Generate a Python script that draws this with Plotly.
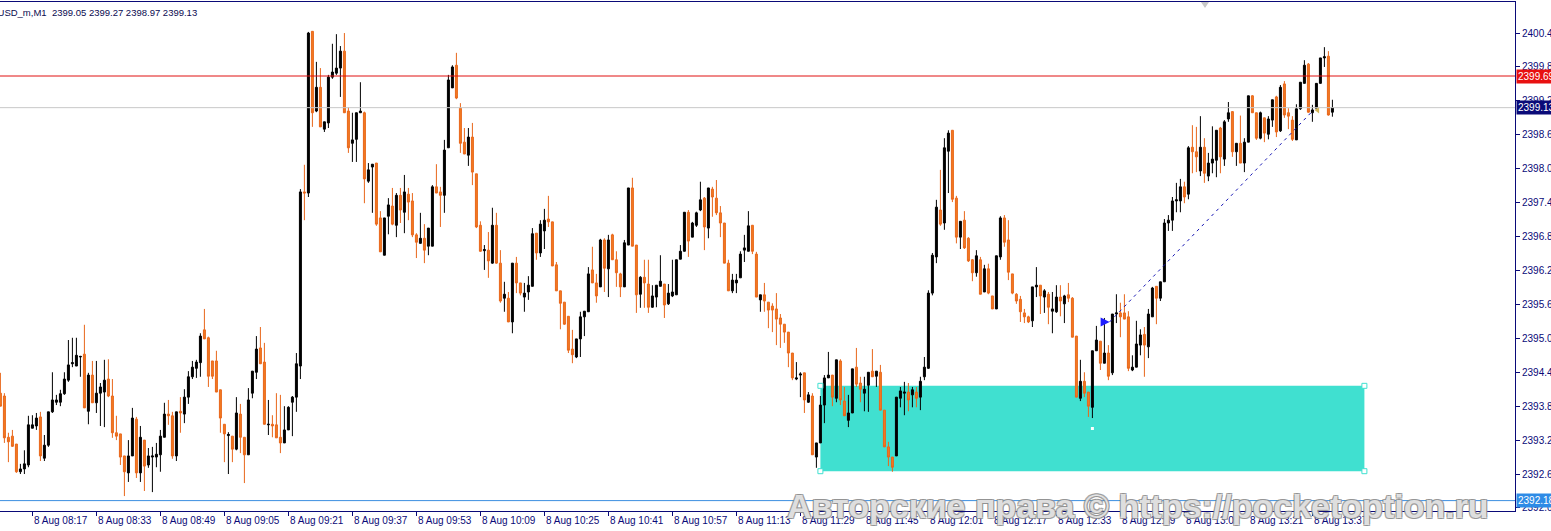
import plotly.graph_objects as go
import pandas as pd

# ---------------- data ----------------
symbol = "XAUUSD_m,M1"
first_bar_time = "2024-08-08 08:09"

open_ = [
    2394.08, 2394.03, 2393.30, 2393.32, 2393.18, 2392.69, 2392.74, 2392.81, 2393.46, 2393.50,
    2393.66, 2392.93, 2393.16, 2393.75, 2393.92, 2393.92, 2394.07, 2394.31, 2394.60, 2394.56,
    2394.72, 2394.77, 2393.76, 2394.40, 2393.91, 2394.08, 2394.10, 2394.33, 2394.03, 2393.38,
    2393.36, 2392.97, 2392.67, 2392.97, 2393.62, 2392.67, 2393.25, 2392.81, 2392.95, 2392.95,
    2392.99, 2393.30, 2393.71, 2393.68, 2392.97, 2393.76, 2393.71, 2394.01, 2394.37, 2394.52,
    2394.62, 2395.20, 2395.06, 2394.65, 2394.65, 2394.14, 2393.53, 2393.33, 2393.32, 2393.09,
    2393.71, 2393.30, 2392.99, 2394.08, 2394.45, 2394.88, 2394.63, 2393.52, 2393.53, 2393.52,
    2393.30, 2393.20, 2393.43, 2393.92, 2394.01, 2394.56, 2397.64, 2397.62, 2400.48, 2399.07,
    2399.49, 2398.75, 2398.86, 2399.67, 2399.74, 2399.83, 2400.13, 2399.07, 2398.50, 2398.57,
    2399.04, 2399.04, 2397.83, 2398.08, 2398.15, 2397.18, 2396.52, 2397.21, 2397.39, 2397.05,
    2397.58, 2397.28, 2397.60, 2397.48, 2396.88, 2396.73, 2396.82, 2396.68, 2396.68, 2397.73,
    2397.64, 2397.58, 2398.42, 2399.48, 2399.88, 2399.12, 2398.52, 2398.29, 2398.61, 2397.96,
    2397.05, 2396.60, 2396.61, 2396.38, 2397.05, 2396.38, 2395.76, 2395.76, 2395.34, 2396.38,
    2396.03, 2395.78, 2395.87, 2395.97, 2396.91, 2396.56, 2396.95, 2397.16, 2397.11, 2396.35,
    2395.89, 2395.69, 2395.44, 2394.86, 2394.72, 2395.04, 2395.43, 2395.52, 2396.26, 2396.03,
    2395.96, 2396.79, 2396.28, 2396.88, 2396.44, 2396.19, 2395.96, 2396.70, 2397.71, 2396.70,
    2395.83, 2396.13, 2396.01, 2395.60, 2395.78, 2395.97, 2396.01, 2395.66, 2395.80, 2395.82,
    2396.45, 2396.59, 2397.28, 2396.84, 2397.05, 2397.32, 2397.53, 2397.00, 2397.69, 2397.53,
    2397.27, 2397.09, 2396.38, 2395.89, 2396.03, 2396.12, 2396.61, 2396.59, 2397.05, 2396.54,
    2395.73, 2395.82, 2395.69, 2395.62, 2395.57, 2395.41, 2395.30, 2395.16, 2394.79, 2394.33,
    2394.40, 2394.44, 2393.92, 2394.03, 2392.95, 2393.20, 2393.87, 2394.35, 2394.40, 2393.99,
    2394.65, 2393.94, 2393.60, 2393.73, 2394.54, 2394.26, 2394.08, 2394.22, 2394.47, 2394.38,
    2394.45, 2393.78, 2393.13, 2392.95, 2392.97, 2393.99, 2394.08, 2394.10, 2394.05, 2394.10,
    2394.01, 2394.37, 2394.52, 2395.85, 2396.49, 2397.32, 2397.09, 2398.36, 2398.73, 2397.53,
    2396.84, 2397.14, 2396.82, 2396.44, 2396.21, 2396.44, 2395.87, 2396.28, 2395.80, 2395.57,
    2396.49, 2397.18, 2396.79, 2396.19, 2395.83, 2395.74, 2395.50, 2395.43, 2395.36, 2395.96,
    2395.99, 2395.78, 2395.83, 2395.53, 2395.52, 2395.78, 2395.66, 2395.82, 2395.76, 2395.09,
    2393.99, 2394.29, 2394.10, 2393.83, 2394.83, 2395.00, 2394.61, 2394.79, 2394.44, 2395.48,
    2395.50, 2395.50, 2395.43, 2394.49, 2394.54, 2394.93, 2395.12, 2394.90, 2395.43, 2395.97,
    2395.76, 2396.05, 2397.09, 2397.14, 2397.48, 2397.48, 2397.73, 2397.60, 2398.43, 2398.35,
    2398.01, 2398.43, 2397.92, 2398.15, 2398.20, 2398.77, 2398.22, 2398.93, 2399.06, 2398.35,
    2398.50, 2398.15, 2398.52, 2399.34, 2399.04, 2398.59, 2398.95, 2398.66, 2398.91, 2399.32,
    2398.72, 2399.55, 2399.04, 2398.91, 2398.56, 2399.11, 2399.56, 2399.90, 2399.04, 2399.12,
    2399.56, 2400.01, 2400.04, 2399.05,
]

high = [
    2394.44, 2394.08, 2393.38, 2393.43, 2393.18, 2392.83, 2393.07, 2393.68, 2393.69, 2393.73,
    2393.75, 2393.34, 2393.75, 2394.45, 2394.05, 2394.14, 2394.45, 2395.02, 2395.06, 2395.06,
    2394.74, 2395.29, 2394.44, 2394.65, 2394.65, 2394.26, 2394.67, 2394.68, 2394.33, 2393.68,
    2393.36, 2392.97, 2393.25, 2393.82, 2393.66, 2393.50, 2393.25, 2393.11, 2393.13, 2393.20,
    2393.43, 2393.91, 2393.96, 2393.75, 2393.75, 2394.01, 2394.15, 2394.47, 2394.65, 2394.67,
    2395.14, 2395.57, 2395.08, 2394.65, 2394.83, 2394.14, 2393.53, 2393.39, 2393.32, 2394.01,
    2393.89, 2393.30, 2394.17, 2394.47, 2395.09, 2395.25, 2394.97, 2393.96, 2393.69, 2394.08,
    2394.05, 2393.85, 2393.85, 2394.03, 2394.79, 2397.69, 2398.12, 2400.47, 2400.48, 2399.94,
    2399.83, 2398.88, 2399.71, 2400.26, 2400.43, 2400.22, 2400.45, 2399.14, 2399.04, 2399.04,
    2399.58, 2399.06, 2398.15, 2398.13, 2398.15, 2397.30, 2397.18, 2397.53, 2397.71, 2397.62,
    2397.71, 2397.94, 2397.71, 2397.62, 2396.91, 2397.27, 2397.07, 2397.00, 2397.76, 2398.13,
    2397.73, 2398.56, 2399.71, 2399.88, 2400.10, 2399.21, 2398.77, 2398.77, 2398.86, 2397.96,
    2397.12, 2396.70, 2396.93, 2397.36, 2397.27, 2396.61, 2396.05, 2395.87, 2396.38, 2396.49,
    2396.03, 2396.03, 2396.15, 2397.00, 2396.91, 2397.14, 2397.34, 2397.57, 2397.11, 2396.40,
    2395.89, 2395.69, 2395.44, 2395.20, 2395.04, 2395.52, 2395.53, 2396.31, 2396.67, 2396.19,
    2396.81, 2396.82, 2396.88, 2396.90, 2396.59, 2396.21, 2396.79, 2397.71, 2397.89, 2396.70,
    2396.15, 2396.44, 2396.44, 2395.99, 2395.99, 2396.52, 2396.01, 2396.01, 2396.44, 2396.44,
    2396.70, 2397.28, 2397.32, 2397.11, 2397.29, 2397.82, 2397.55, 2397.71, 2397.73, 2397.85,
    2397.39, 2397.09, 2396.44, 2396.19, 2396.19, 2396.59, 2396.88, 2397.30, 2397.05, 2396.58,
    2395.82, 2396.03, 2395.69, 2395.67, 2395.85, 2395.48, 2395.30, 2395.16, 2394.79, 2394.63,
    2394.45, 2394.44, 2394.10, 2394.08, 2393.20, 2394.03, 2394.40, 2394.81, 2394.40, 2394.67,
    2394.68, 2394.19, 2394.05, 2394.51, 2394.88, 2394.37, 2394.37, 2394.45, 2394.86, 2394.47,
    2394.58, 2393.78, 2393.22, 2392.95, 2394.01, 2394.19, 2394.28, 2394.26, 2394.19, 2394.19,
    2394.37, 2394.72, 2395.90, 2396.56, 2397.50, 2398.03, 2398.59, 2398.73, 2398.73, 2397.57,
    2397.12, 2397.30, 2396.84, 2396.45, 2396.61, 2396.49, 2396.35, 2396.37, 2395.80, 2396.51,
    2397.21, 2397.23, 2397.14, 2396.19, 2395.85, 2395.80, 2395.57, 2395.45, 2395.96, 2396.31,
    2395.99, 2395.92, 2395.87, 2395.87, 2395.99, 2395.99, 2395.82, 2396.03, 2395.78, 2395.09,
    2394.67, 2394.45, 2394.10, 2394.83, 2395.27, 2395.00, 2395.41, 2394.93, 2395.48, 2395.83,
    2395.68, 2395.83, 2395.53, 2394.75, 2395.36, 2395.21, 2395.25, 2395.57, 2395.96, 2395.97,
    2396.05, 2397.16, 2397.23, 2397.55, 2397.80, 2397.87, 2397.82, 2398.45, 2398.82, 2398.79,
    2398.98, 2398.59, 2398.33, 2398.80, 2398.73, 2398.79, 2398.91, 2399.23, 2399.06, 2398.50,
    2398.99, 2398.59, 2399.34, 2399.35, 2399.04, 2399.06, 2398.95, 2398.98, 2399.27, 2399.34,
    2399.53, 2399.60, 2399.12, 2398.98, 2399.19, 2399.58, 2399.97, 2399.92, 2399.18, 2399.56,
    2400.01, 2400.20, 2400.13, 2399.27,
]

low = [
    2393.85, 2393.20, 2392.86, 2393.13, 2392.67, 2392.65, 2392.65, 2392.77, 2393.46, 2393.43,
    2392.88, 2392.88, 2393.13, 2393.73, 2393.87, 2393.85, 2394.05, 2394.28, 2394.54, 2394.56,
    2394.37, 2393.82, 2393.53, 2393.91, 2393.73, 2393.50, 2393.48, 2394.01, 2393.29, 2393.25,
    2392.81, 2392.26, 2392.51, 2392.97, 2392.58, 2392.51, 2392.35, 2392.76, 2392.33, 2392.77,
    2392.69, 2393.30, 2393.52, 2392.92, 2392.88, 2393.38, 2393.55, 2393.89, 2394.33, 2394.35,
    2394.37, 2395.04, 2394.19, 2394.33, 2394.10, 2393.38, 2392.86, 2392.65, 2392.86, 2393.07,
    2393.02, 2392.49, 2392.99, 2393.99, 2394.33, 2394.60, 2393.53, 2393.34, 2393.30, 2393.29,
    2393.02, 2393.20, 2393.43, 2393.32, 2393.75, 2394.33, 2397.14, 2397.55, 2398.79, 2399.05,
    2398.79, 2398.70, 2398.77, 2399.64, 2399.71, 2399.32, 2399.04, 2398.33, 2398.17, 2398.17,
    2399.04, 2397.44, 2397.80, 2397.27, 2397.04, 2396.58, 2396.52, 2396.89, 2397.05, 2396.84,
    2397.09, 2396.91, 2397.14, 2396.84, 2396.47, 2396.73, 2396.38, 2396.52, 2396.68, 2397.62,
    2397.02, 2397.27, 2398.42, 2399.48, 2399.28, 2398.33, 2398.31, 2398.10, 2397.76, 2397.00,
    2396.58, 2396.26, 2396.12, 2396.37, 2396.37, 2395.68, 2395.52, 2395.34, 2395.14, 2395.85,
    2395.81, 2395.52, 2395.73, 2395.97, 2396.44, 2396.49, 2396.63, 2397.02, 2396.33, 2395.89,
    2395.21, 2395.29, 2394.79, 2394.61, 2394.70, 2394.72, 2395.09, 2395.52, 2396.03, 2395.68,
    2395.96, 2395.87, 2395.78, 2396.44, 2395.96, 2395.78, 2395.96, 2396.70, 2396.68, 2395.50,
    2395.59, 2395.59, 2395.50, 2395.59, 2395.60, 2395.97, 2395.41, 2395.64, 2395.78, 2395.82,
    2396.45, 2396.59, 2396.49, 2396.84, 2397.02, 2397.30, 2396.61, 2396.82, 2397.20, 2397.23,
    2396.84, 2396.38, 2395.89, 2395.85, 2395.85, 2396.12, 2396.40, 2396.59, 2396.54, 2395.78,
    2395.52, 2395.52, 2395.23, 2395.16, 2394.93, 2394.88, 2394.97, 2394.54, 2394.31, 2394.31,
    2394.01, 2393.73, 2393.91, 2392.99, 2392.76, 2393.20, 2393.55, 2394.35, 2393.85, 2393.92,
    2393.87, 2393.68, 2393.48, 2393.73, 2394.19, 2393.92, 2393.76, 2393.75, 2394.37, 2394.19,
    2393.78, 2393.13, 2392.79, 2392.69, 2392.97, 2393.83, 2393.69, 2393.76, 2393.83, 2393.83,
    2393.78, 2394.31, 2394.51, 2395.81, 2396.38, 2397.04, 2396.97, 2397.62, 2397.46, 2396.73,
    2396.63, 2396.63, 2396.40, 2396.06, 2396.14, 2395.83, 2395.87, 2395.83, 2395.57, 2395.57,
    2396.44, 2396.67, 2396.08, 2395.83, 2395.66, 2395.34, 2395.32, 2395.32, 2395.25, 2395.78,
    2395.48, 2395.50, 2395.30, 2395.14, 2395.50, 2395.44, 2395.32, 2395.69, 2395.07, 2394.01,
    2393.94, 2394.01, 2393.66, 2393.64, 2394.83, 2394.49, 2394.61, 2394.31, 2394.40, 2395.32,
    2395.07, 2395.39, 2394.47, 2394.47, 2394.54, 2394.75, 2394.37, 2394.70, 2395.43, 2395.30,
    2395.71, 2396.05, 2396.95, 2396.95, 2397.28, 2397.28, 2397.44, 2397.51, 2397.97, 2397.99,
    2397.92, 2397.80, 2397.83, 2397.97, 2397.90, 2397.97, 2398.10, 2398.88, 2398.26, 2398.10,
    2398.15, 2397.99, 2398.52, 2399.04, 2398.56, 2398.57, 2398.52, 2398.57, 2398.79, 2398.61,
    2398.70, 2398.95, 2398.75, 2398.54, 2398.56, 2399.09, 2399.56, 2399.04, 2398.88, 2399.11,
    2399.56, 2399.85, 2398.99, 2398.97,
]

close = [
    2393.85, 2393.29, 2393.22, 2393.14, 2392.69, 2392.74, 2392.83, 2393.52, 2393.52, 2393.64,
    2392.97, 2393.16, 2393.75, 2393.96, 2393.96, 2394.07, 2394.33, 2394.58, 2394.62, 2394.75,
    2394.73, 2393.82, 2394.40, 2393.91, 2394.08, 2394.19, 2394.31, 2394.03, 2393.38, 2393.32,
    2392.95, 2392.69, 2392.97, 2393.64, 2392.67, 2393.30, 2392.79, 2392.97, 2392.97, 2393.00,
    2393.32, 2393.71, 2393.68, 2392.97, 2393.75, 2393.73, 2394.01, 2394.37, 2394.54, 2394.63,
    2395.09, 2395.04, 2394.38, 2394.38, 2394.10, 2393.64, 2393.36, 2393.35, 2393.09, 2393.73,
    2393.30, 2392.99, 2393.96, 2394.47, 2394.86, 2394.60, 2393.53, 2393.53, 2393.50, 2393.29,
    2393.20, 2393.43, 2393.83, 2394.01, 2394.60, 2397.64, 2397.62, 2400.45, 2399.04, 2399.49,
    2398.79, 2398.88, 2399.67, 2399.76, 2399.83, 2400.13, 2399.04, 2398.42, 2398.56, 2399.04,
    2399.07, 2397.87, 2398.03, 2398.13, 2397.07, 2396.58, 2397.18, 2397.41, 2397.07, 2397.58,
    2397.32, 2397.64, 2397.46, 2396.88, 2396.75, 2396.82, 2396.61, 2397.00, 2397.73, 2397.62,
    2397.58, 2398.38, 2399.62, 2399.85, 2399.30, 2398.50, 2398.31, 2398.61, 2397.99, 2397.02,
    2396.59, 2396.62, 2396.42, 2397.05, 2396.38, 2395.71, 2395.83, 2395.34, 2396.38, 2396.03,
    2395.85, 2395.85, 2395.99, 2396.90, 2396.56, 2397.07, 2397.14, 2397.11, 2396.33, 2395.89,
    2395.67, 2395.30, 2394.84, 2394.76, 2395.04, 2395.43, 2395.53, 2396.19, 2396.03, 2395.80,
    2396.79, 2396.29, 2396.79, 2396.44, 2396.21, 2395.96, 2396.74, 2397.71, 2396.68, 2395.82,
    2396.13, 2396.03, 2395.60, 2395.80, 2395.99, 2396.06, 2395.64, 2395.85, 2395.87, 2396.44,
    2396.59, 2397.28, 2396.77, 2397.09, 2397.27, 2397.50, 2397.02, 2397.71, 2397.55, 2397.27,
    2397.09, 2396.38, 2395.89, 2396.08, 2396.08, 2396.54, 2396.65, 2397.04, 2396.59, 2395.78,
    2395.82, 2395.71, 2395.55, 2395.55, 2395.39, 2395.30, 2395.16, 2394.79, 2394.35, 2394.35,
    2394.42, 2393.96, 2394.05, 2392.99, 2393.20, 2393.87, 2394.35, 2394.40, 2394.01, 2394.67,
    2393.96, 2393.68, 2393.73, 2394.51, 2394.24, 2394.15, 2394.15, 2394.45, 2394.37, 2394.47,
    2393.78, 2393.13, 2392.95, 2392.77, 2394.01, 2394.12, 2394.10, 2393.96, 2394.14, 2393.99,
    2394.29, 2394.54, 2395.85, 2396.52, 2397.37, 2397.07, 2398.42, 2398.68, 2397.51, 2396.84,
    2397.12, 2396.65, 2396.42, 2396.21, 2396.51, 2395.83, 2396.28, 2395.85, 2395.57, 2396.51,
    2397.18, 2396.75, 2396.22, 2395.85, 2395.71, 2395.52, 2395.43, 2395.34, 2395.96, 2395.99,
    2395.80, 2395.89, 2395.60, 2395.57, 2395.78, 2395.71, 2395.80, 2395.76, 2395.07, 2394.01,
    2394.29, 2394.08, 2393.85, 2394.83, 2395.02, 2394.61, 2394.79, 2394.38, 2395.48, 2395.50,
    2395.43, 2395.39, 2394.52, 2394.54, 2394.95, 2395.11, 2394.93, 2395.48, 2395.94, 2395.76,
    2396.05, 2397.09, 2397.14, 2397.48, 2397.50, 2397.73, 2397.55, 2398.42, 2398.35, 2398.26,
    2398.43, 2397.97, 2398.15, 2398.22, 2398.73, 2398.26, 2398.88, 2399.04, 2398.35, 2398.50,
    2398.15, 2398.52, 2399.34, 2399.04, 2398.59, 2399.04, 2398.68, 2398.93, 2399.27, 2398.70,
    2399.49, 2399.00, 2398.98, 2398.57, 2399.11, 2399.58, 2399.88, 2399.05, 2399.09, 2399.56,
    2400.01, 2400.03, 2399.00, 2399.13,
]

price_ticks = [2392.05, 2392.65, 2393.25, 2393.85, 2394.45, 2395.05, 2395.65, 2396.25,
               2396.85, 2397.45, 2398.05, 2398.65, 2399.25, 2399.85, 2400.45]
price_tick_labels = ["2392.05", "2392.65", "2393.25", "2393.85", "2394.45", "2395.05",
                     "2395.65", "2396.25", "2396.85", "2397.45", "2398.05", "2398.65",
                     "2399.25", "2399.85", "2400.45"]

ask_price = 2399.69     # red line
bid_price = 2399.13     # grey line (last close)
level_price = 2392.18   # blue line

zone_start_bar, zone_end_bar = 205, 341
zone_top, zone_bottom = 2394.21, 2392.70

trend_start_bar, trend_start_price = 277.3, 2395.34
trend_end_bar, trend_end_price = 328.3, 2399.09

label_every = 16
first_label_bar = -8

watermark = "Авторские права © https://pocketoption.ru"

# ---------------- styles ----------------
NAVY = "#0a0a78"
BULL = "#000000"
BEAR_LINE = "#E8661A"
BEAR_FILL = "#F27B22"
FONT = "Liberation Sans"

bars = list(range(len(open_)))
t0 = pd.Timestamp(first_bar_time)

fig = go.Figure()

fig.add_trace(go.Candlestick(
    x=bars, open=open_, high=high, low=low, close=close,
    increasing=dict(line=dict(color=BULL, width=1), fillcolor=BULL),
    decreasing=dict(line=dict(color=BEAR_LINE, width=1), fillcolor=BEAR_FILL),
    whiskerwidth=0, showlegend=False, hoverinfo="skip",
))

# rectangle zone (behind candles)
fig.add_shape(type="rect", xref="x", yref="y",
              x0=zone_start_bar, x1=zone_end_bar, y0=zone_bottom, y1=zone_top,
              fillcolor="#40E0D0", line=dict(width=0), layer="below")

# horizontal price lines
for price, col in [(ask_price, "#E01010"), (bid_price, "#C8C8C8"), (level_price, "#3C8FE0")]:
    fig.add_shape(type="line", xref="paper", yref="y", x0=0, x1=1, y0=price, y1=price,
                  line=dict(color=col, width=1), layer="above")

# trend line
fig.add_shape(type="line", xref="x", yref="y",
              x0=trend_start_bar, y0=trend_start_price, x1=trend_end_bar, y1=trend_end_price,
              line=dict(color="#1414B4", width=1, dash="3px,4px"))

# zone handles
fig.add_trace(go.Scatter(
    x=[zone_start_bar, zone_end_bar, zone_start_bar, zone_end_bar],
    y=[zone_top, zone_top, zone_bottom, zone_bottom],
    mode="markers", hoverinfo="skip", showlegend=False, cliponaxis=False,
    marker=dict(symbol="square", size=5, color="white", line=dict(color="#40E0D0", width=1)),
))
fig.add_trace(go.Scatter(
    x=[(zone_start_bar + zone_end_bar) / 2], y=[(zone_top + zone_bottom) / 2],
    mode="markers", hoverinfo="skip", showlegend=False,
    marker=dict(symbol="square", size=3, color="white"),
))
# trend end markers
fig.add_trace(go.Scatter(
    x=[trend_start_bar], y=[trend_start_price], mode="markers", hoverinfo="skip",
    showlegend=False, marker=dict(symbol="arrow-right", size=9, color="#1c1cff"),
))
fig.add_trace(go.Scatter(
    x=[trend_end_bar + 1], y=[trend_end_price], mode="markers", hoverinfo="skip",
    showlegend=False, marker=dict(symbol="triangle-left", size=6, color="#D2B45A"),
))

# chart-shift marker at the top
fig.add_shape(type="path", xref="paper", yref="paper",
              path="M 0.7927 1 L 0.7980 1 L 0.7954 0.988 Z",
              fillcolor="#C8C8C8", line=dict(width=0))

# time tick labels (left-aligned at tick, MT4 style)
label_bars = list(range(first_label_bar, len(open_), label_every))
annotations = []
for b in label_bars:
    t = t0 + pd.Timedelta(minutes=b)
    txt = t.strftime("%-d %b %Y") if b == first_label_bar else t.strftime("%-d %b %H:%M")
    annotations.append(dict(x=b, xref="x", y=0, yref="paper", xanchor="left", yanchor="top",
                            yshift=-2, text=txt, showarrow=False,
                            font=dict(family=FONT, size=10, color=NAVY)))

# symbol / OHLC header
header = (f"{symbol}\u00a0\u00a0{open_[-1]:.2f} {high[-1]:.2f} {low[-1]:.2f} {close[-1]:.2f}")
annotations.append(dict(x=-24 / 1515, xref="paper", y=1, yref="paper", xanchor="left",
                        yanchor="top", yshift=-3, text=header, showarrow=False,
                        font=dict(family=FONT, size=9.5, color="#0a0a50")))

# price boxes on the right axis
for price, bg in [(ask_price, "#E81010"), (bid_price, "#0a0a78"), (level_price, "#2E8BE6")]:
    annotations.append(dict(x=1, xref="paper", y=price, yref="y", xanchor="left",
                            yanchor="middle", xshift=1, text=f"{price:.2f}", showarrow=False,
                            bgcolor=bg, borderpad=1,
                            font=dict(family=FONT, size=10, color="white")))

# watermark
annotations.append(dict(x=785 / 1515, xref="paper", y=0, yref="paper", xanchor="left",
                        yanchor="middle", yshift=5, text=watermark, showarrow=False,
                        font=dict(family=FONT, size=34, weight="bold",
                                  color="rgba(250,250,250,0.75)",
                                  shadow="1px 1px 0 #8c8c8c, -1px -1px 0 #8c8c8c, "
                                         "1px -1px 0 #8c8c8c, -1px 1px 0 #8c8c8c")))

fig.update_layout(
    width=1551, height=531,
    margin=dict(l=0, r=36, t=2, b=20, autoexpand=False),
    paper_bgcolor="white", plot_bgcolor="white",
    showlegend=False,
    boxgap=0.3,
    annotations=annotations,
    xaxis=dict(
        range=[-0.1, 378.65], showgrid=False, zeroline=False,
        rangeslider=dict(visible=False), automargin=False,
        showline=True, linecolor=NAVY, linewidth=1, mirror=True,
        tickmode="array", tickvals=label_bars, ticks="outside", ticklen=4,
        tickcolor=NAVY, showticklabels=False,
    ),
    yaxis=dict(
        side="right", range=[2391.996, 2400.999], showgrid=False, zeroline=False,
        showline=True, linecolor=NAVY, linewidth=1, automargin=False,
        tickmode="array", tickvals=price_ticks, ticktext=price_tick_labels,
        ticks="outside", ticklen=4, tickcolor=NAVY,
        tickfont=dict(family=FONT, size=10, color=NAVY),
    ),
)

fig.write_html(
    "out.html",
    config={"displayModeBar": False},
    post_script="document.body.style.margin='0';document.body.style.overflow='hidden';",
)
